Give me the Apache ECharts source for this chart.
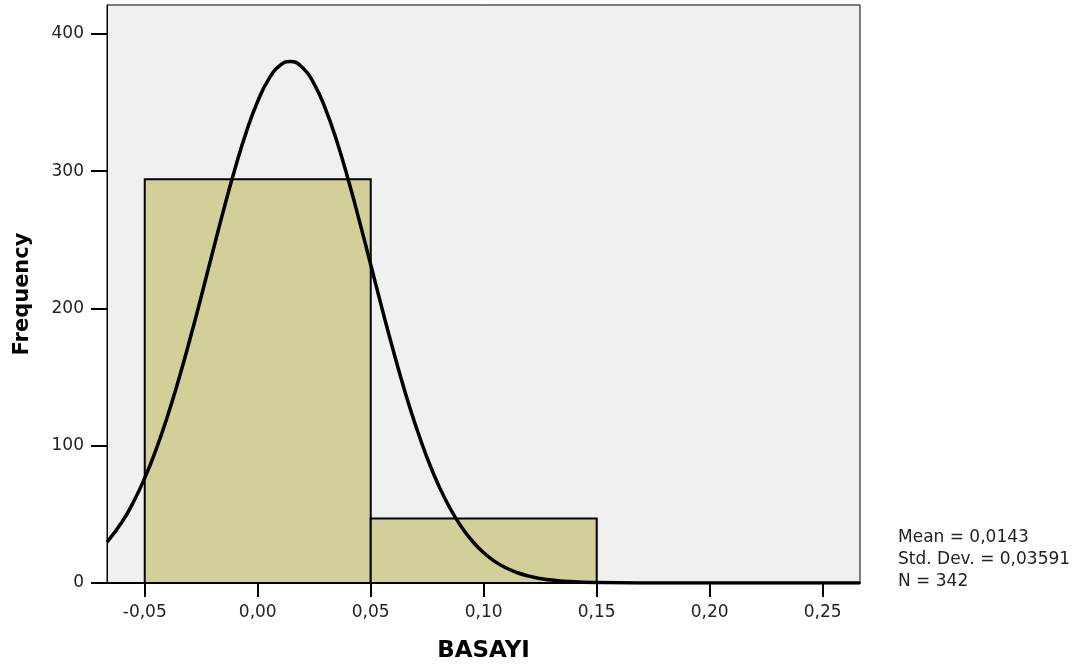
<!DOCTYPE html>
<html>
<head>
<meta charset="utf-8">
<script src="https://cdn.jsdelivr.net/npm/echarts@6/dist/echarts.min.js"></script>
<style>
  html, body { margin: 0; padding: 0; background: #ffffff; }
  #chart { width: 1080px; height: 670px; }
</style>
</head>
<body>
<div id="chart"></div>
<script>
// Histogram bins: [start, end] and counts
const binStarts = [-0.05, 0.05];
const binEnds = [0.05, 0.15];
const binCounts = [294, 47];

// Fitted normal curve, sampled points (x, frequency)
const curveX = [-0.0667, -0.06, -0.055, -0.05, -0.045, -0.04, -0.035, -0.03, -0.025, -0.02,
  -0.015, -0.01, -0.005, 0.0, 0.005, 0.01, 0.0143, 0.02, 0.025, 0.03, 0.035, 0.04, 0.045,
  0.05, 0.055, 0.06, 0.065, 0.07, 0.075, 0.08, 0.085, 0.09, 0.095, 0.10, 0.105, 0.11,
  0.115, 0.12, 0.125, 0.13, 0.14, 0.15, 0.17, 0.20, 0.2665];
const curveY = [29.8, 44.6, 59.0, 76.5, 97.2, 121.1, 148.0, 177.5, 208.7, 240.7,
  272.3, 302.1, 328.8, 350.9, 367.4, 377.2, 379.9, 375.1, 363.4, 345.2, 321.8, 294.1, 263.6,
  231.8, 199.9, 169.1, 140.2, 114.1, 91.0, 71.2, 54.7, 41.2, 30.4, 22.0, 15.6, 10.9,
  7.45, 4.99, 3.28, 2.12, 0.83, 0.30, 0.03, 0.0, 0.0];

// Axis tick values
const xTicks = [-0.05, 0.0, 0.05, 0.10, 0.15, 0.20, 0.25];

// Summary statistics
const statLines = ['Mean = 0,0143', 'Std. Dev. = 0,03591', 'N = 342'];

const barData = binStarts.map((s, i) => [s, binEnds[i], binCounts[i]]);
const lineData = curveX.map((x, i) => [x, curveY[i]]);

const labelFont = 'DejaVu Sans';
const titleFont = 'DejaVu Sans';

const chart = echarts.init(document.getElementById('chart'));

chart.setOption({
  animation: false,
  backgroundColor: '#ffffff',
  grid: {
    left: 107, top: 5, right: 220, bottom: 87,
    outerBoundsMode: 'none',
    containLabel: false,
    show: true,
    backgroundColor: '#f0f0f0',
    borderColor: '#000000',
    borderWidth: 1
  },
  xAxis: {
    type: 'value',
    min: -0.0667,
    max: 0.2665,
    name: 'BASAYI',
    nameLocation: 'middle',
    nameGap: 57,
    nameTextStyle: { fontFamily: titleFont, fontWeight: 'bold', fontSize: 23, color: '#000' },
    axisLine: { show: true, onZero: false, lineStyle: { color: '#000', width: 2 } },
    axisTick: { show: true, length: 14, customValues: xTicks, lineStyle: { color: '#000', width: 2 } },
    axisLabel: {
      customValues: xTicks,
      margin: 21,
      fontFamily: labelFont, fontSize: 17, color: '#222',
      formatter: v => v.toFixed(2).replace('.', ',')
    },
    splitLine: { show: false }
  },
  yAxis: {
    type: 'value',
    min: 0,
    max: 421,
    interval: 100,
    name: 'Frequency',
    nameLocation: 'middle',
    nameGap: 74,
    nameRotate: 90,
    nameTextStyle: { fontFamily: titleFont, fontWeight: 'bold', fontSize: 21, color: '#000' },
    axisLine: { show: true, onZero: false, lineStyle: { color: '#000', width: 1 } },
    axisTick: { show: true, length: 16, lineStyle: { color: '#000', width: 2 } },
    axisLabel: { margin: 23, fontFamily: labelFont, fontSize: 17, color: '#222',
      showMaxLabel: false },
    splitLine: { show: false }
  },
  series: [
    {
      type: 'custom',
      data: barData,
      encode: { x: [0, 1], y: 2 },
      renderItem: function (params, api) {
        const p0 = api.coord([api.value(0), api.value(2)]);
        const p1 = api.coord([api.value(1), 0]);
        return {
          type: 'rect',
          shape: { x: p0[0], y: p0[1], width: p1[0] - p0[0], height: p1[1] - p0[1] },
          style: { fill: '#d3cf99', stroke: '#000', lineWidth: 2 }
        };
      },
      z: 2
    },
    {
      type: 'line',
      data: lineData,
      smooth: true,
      showSymbol: false,
      clip: true,
      lineStyle: { color: '#000', width: 3.5 },
      z: 3
    }
  ],
  graphic: statLines.map((t, i) => ({
    type: 'text',
    x: 898,
    y: 538 + i * 22,
    style: { text: t, fontFamily: labelFont, fontSize: 17, fill: '#222', verticalAlign: 'middle' }
  }))
});
</script>
</body>
</html>
